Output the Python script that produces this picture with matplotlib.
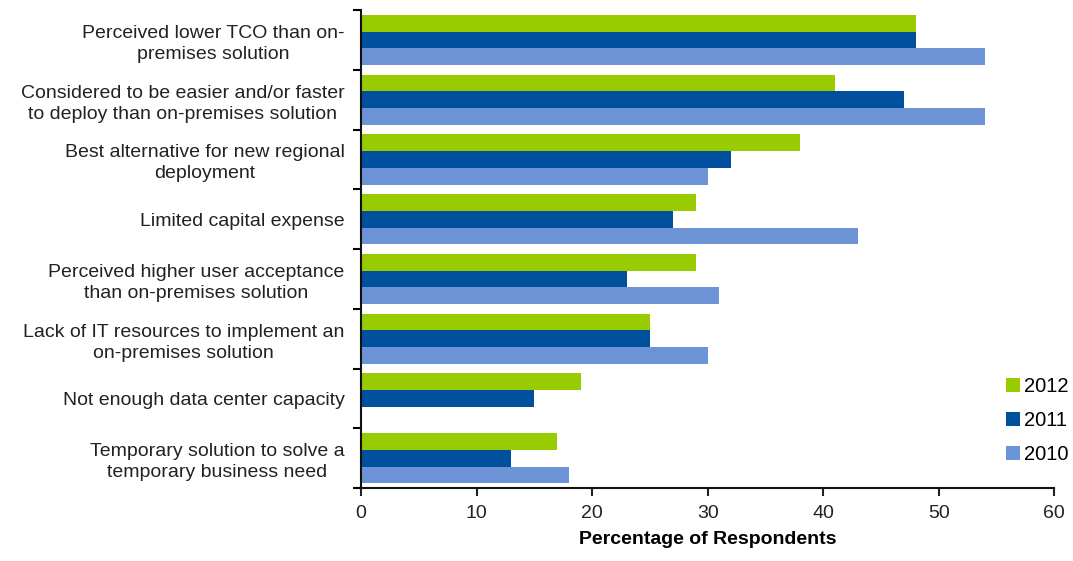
import matplotlib
matplotlib.use("Agg")
import matplotlib.pyplot as plt
import numpy as np

plt.rcParams['font.family'] = ['Liberation Sans', 'DejaVu Sans']

categories = [
    "Perceived lower TCO than on-\npremises solution",
    "Considered to be easier and/or faster\nto deploy than on-premises solution",
    "Best alternative for new regional\ndeployment",
    "Limited capital expense",
    "Perceived higher user acceptance\nthan on-premises solution",
    "Lack of IT resources to implement an\non-premises solution",
    "Not enough data center capacity",
    "Temporary solution to solve a\ntemporary business need",
]
series_names = ["2012", "2011", "2010"]
values_2012 = [48, 41, 38, 29, 29, 25, 19, 17]
values_2011 = [48, 47, 32, 27, 23, 25, 15, 13]
values_2010 = [54, 54, 30, 43, 31, 30, np.nan, 18]
colors = ["#99cc00", "#00509e", "#6b93d6"]
xticks = [0, 10, 20, 30, 40, 50, 60]

fig = plt.figure(figsize=(10.73, 5.61), dpi=100)
ax = fig.add_axes([0.3365, 0.130, 0.646, 0.852])

y = np.arange(len(categories))
h = 0.28
for k, (vals, name, c) in enumerate(zip([values_2012, values_2011, values_2010], series_names, colors)):
    ax.barh(y + (k - 1) * h, vals, height=h, color=c, label=name)

ax.set_ylim(len(categories) - 0.5, -0.5)
ax.set_xlim(0, 60)
ax.set_xticks(xticks)
ax.tick_params(axis='x', labelsize=14, direction='out', length=6, width=1.5, pad=6, colors='#222222')
ax.set_yticks(y)
ax.set_yticklabels(categories)
ax.tick_params(axis='y', which='major', length=0, pad=12, labelsize=14)
ax.set_yticks(np.arange(len(categories) + 1) - 0.5, minor=True)
ax.tick_params(axis='y', which='minor', length=6, width=1.5, direction='out')
for lbl in ax.get_yticklabels():
    lbl.set_multialignment('center')
    lbl.set_color('#222222')
    lbl.set_linespacing(1.3)

for s in ['top', 'right']:
    ax.spines[s].set_visible(False)
for s in ['left', 'bottom']:
    ax.spines[s].set_linewidth(1.5)
    ax.spines[s].set_color('#111111')

ax.set_xlabel("Percentage of Respondents", fontsize=14, fontweight='bold', labelpad=7)

ax.legend(loc='lower right', bbox_to_anchor=(1.047, 0.012), frameon=False, fontsize=14.5,
          handlelength=0.7, handleheight=0.7, handletextpad=0.2, labelspacing=0.75)

fig.savefig("out.png", dpi=100)
